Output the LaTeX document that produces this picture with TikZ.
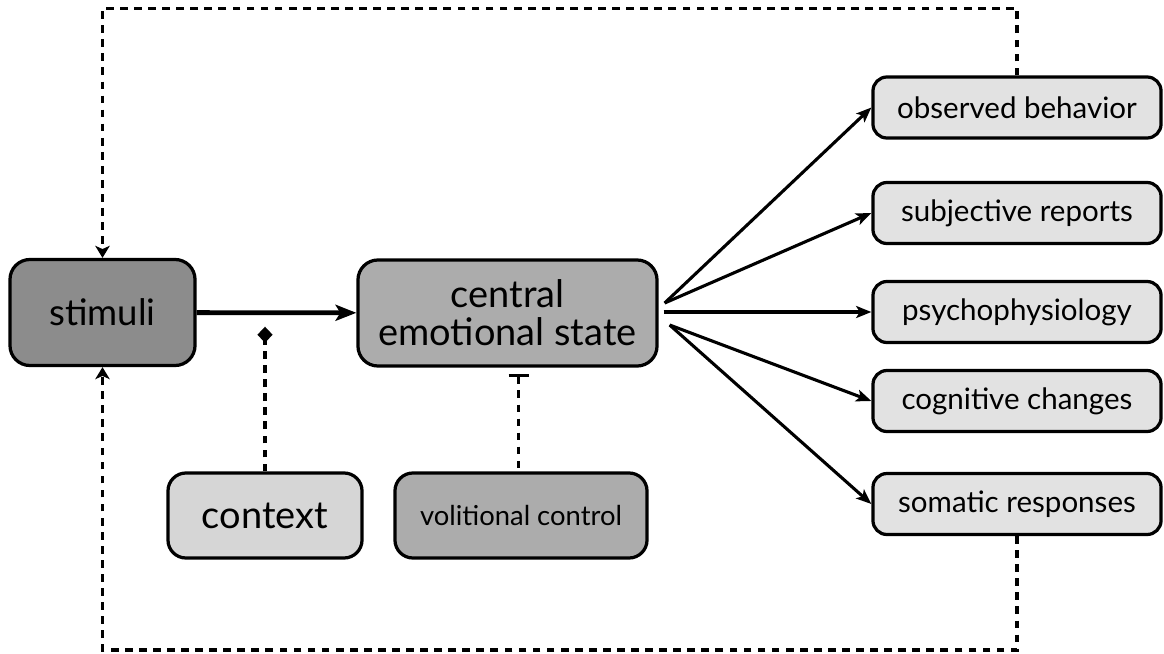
\documentclass[tikz,border=0pt]{standalone}
\usepackage{fontspec}
\setmainfont{Lato}
\usetikzlibrary{arrows.meta,positioning,calc}
\definecolor{dgray}{RGB}{140,140,140}
\definecolor{mgray}{RGB}{172,172,172}
\definecolor{lgray}{RGB}{214,214,214}
\definecolor{pgray}{RGB}{226,226,226}
\tikzset{
  bigbox/.style={rectangle,draw,line width=2.3pt,rounded corners=5mm,minimum height=26.5mm,inner sep=2pt,align=center,font=\fontsize{27}{27}\selectfont},
  midbox/.style={rectangle,draw,line width=2.3pt,rounded corners=4.5mm,minimum height=21.25mm,inner sep=2pt},
  outbox/.style={rectangle,draw,line width=2.3pt,fill=pgray,rounded corners=3.5mm,minimum width=72mm,minimum height=15.25mm,inner sep=2pt,font=\fontsize{21}{24}\selectfont},
  me/.style={-{Stealth[length=5.2mm,width=4mm,inset=1.2mm]},line width=3.4pt},
  oe/.style={-{Stealth[length=3.8mm,width=3mm,inset=0.9mm]},line width=2.2pt},
  fb/.style={-{Stealth[length=3mm,width=3.6mm,inset=0.8mm]},line width=2.6pt,dash pattern=on 5.5pt off 4.5pt}
}
\begin{document}
\begin{tikzpicture}[x=0.025cm,y=-0.025cm]
\useasboundingbox (0,0) rectangle (1164,653);
% left part
\node[bigbox,fill=dgray,minimum width=46.25mm,font=\fontsize{26}{27}\selectfont] (S) at (102.5,312.5) {stimuli};
\node[bigbox,fill=mgray,minimum width=74.75mm] (C) at (507.5,313) {central\\emotional state};
\node[midbox,fill=lgray,minimum width=48.5mm,font=\fontsize{27}{28}\selectfont] (X) at (265,515.5) {context};
\node[midbox,fill=mgray,minimum width=63mm,font=\fontsize{19.5}{22}\selectfont] (V) at (521,515.5) {volitional control};
% outcomes
\node[outbox] (O1) at (1017,107.5) {observed behavior};
\node[outbox] (O2) at (1017,213) {subjective reports};
\node[outbox] (O3) at (1017,312) {psychophysiology};
\node[outbox] (O4) at (1017,401) {cognitive changes};
\node[outbox] (O5) at (1017,504) {somatic responses};
\coordinate (cu) at ($(C.east)+(6,-10)$);
\coordinate (cm) at ($(C.east)+(5,-1)$);
\coordinate (cl) at ($(C.east)+(11,12)$);
\coordinate (dm) at ($(S.east)!0.43!(C.west)+(0,14)$);
\coordinate (tb) at ($(C.south)+(11,6)$);
\draw[me] (S) -- (C);
\draw[oe] (cu) -- (O1.west);
\draw[oe] (cu) -- (O2.west);
\draw[oe] (cm) -- (O3.west);
\draw[oe] (cl) -- (O4.west);
\draw[oe] (cl) -- (O5.west);
\draw[line width=2.6pt,dash pattern=on 5.5pt off 4.5pt,-{Diamond[length=4mm,width=3.8mm]}] (X.north) -- (X.north |- dm);
\draw[line width=2.6pt,dash pattern=on 5.5pt off 4.5pt,{Bar[width=5mm]}-] (tb) -- (V.north -| tb);
% feedback loop
\draw[fb] (O1.north) -- ++(0,-67) -| (S.north);
\draw[fb] (O5.south) -- ++(0,114) -| (S.south);
\end{tikzpicture}
\end{document}
